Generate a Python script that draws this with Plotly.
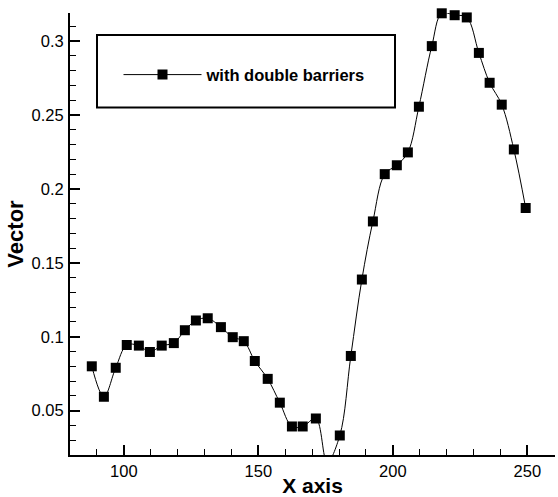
import plotly.graph_objects as go

x_vals = [88.1, 92.6, 97.0, 101.1, 105.6, 109.7, 114.1, 118.6, 122.7, 126.8,
          131.2, 136.1, 140.5, 144.6, 148.7, 153.5, 158.0, 162.5, 166.5, 171.4,
          175.6, 180.3, 184.4, 188.5, 192.6, 197.0, 201.5, 205.6, 209.7, 214.5,
          218.2, 223.0, 227.5, 232.0, 236.0, 240.5, 245.0, 249.4]
y_vals = [0.080, 0.0594, 0.079, 0.0944, 0.094, 0.0897, 0.094, 0.0957, 0.1044, 0.111,
          0.1125, 0.1065, 0.0997, 0.097, 0.0836, 0.0715, 0.0554, 0.0393, 0.0393, 0.0447,
          0.015, 0.0332, 0.087, 0.1387, 0.178, 0.210, 0.216, 0.2247, 0.2556, 0.2966,
          0.3188, 0.3175, 0.316, 0.292, 0.2718, 0.257, 0.2267, 0.1871]
series_name = "with double barriers"
x_title = "X axis"
y_title = "Vector"
x_ticks = [100, 150, 200, 250]
y_ticks = [0.05, 0.1, 0.15, 0.2, 0.25, 0.3]
y_ticklabels = ["0.05", "0.1", "0.15", "0.2", "0.25", "0.3"]

y_min, y_max = 0.02, 0.319

fig = go.Figure()
fig.add_trace(go.Scatter(
    x=x_vals, y=y_vals, mode="lines+markers", name=series_name,
    line=dict(color="black", width=1, shape="spline", smoothing=1.0),
    marker=dict(symbol="square", size=10, color="black", opacity=1,
                line=dict(width=0)),
    cliponaxis=False,
))

font = "Liberation Sans, Arial, sans-serif"
fig.update_layout(
    width=558, height=497,
    margin=dict(l=70, r=3, t=13, b=40),
    paper_bgcolor="white", plot_bgcolor="white",
    font=dict(family=font, color="black", size=16),
    showlegend=True,
    legend=dict(
        x=0.10, y=0.86, xanchor="left", yanchor="middle",
        bgcolor="rgba(0,0,0,0)", borderwidth=0,
        font=dict(family=font, size=16.5, color="black", weight="bold"),
        itemwidth=78,
    ),
    shapes=[dict(type="rect", xref="paper", yref="paper",
                 x0=(97 - 70) / 485, x1=(395 - 70) / 485,
                 y0=(457 - 108) / 444, y1=(457 - 35) / 444,
                 line=dict(color="black", width=2), fillcolor="rgba(0,0,0,0)")],
)
fig.update_xaxes(
    range=[80, 260.3], tickvals=x_ticks, ticks="inside", ticklen=10, tickwidth=2,
    tickcolor="black", showline=True, linecolor="black", linewidth=2,
    showgrid=False, zeroline=False,
    minor=dict(dtick=10, ticks="inside", ticklen=6, tickwidth=1, tickcolor="black"),
    title=dict(text=x_title, font=dict(size=21, weight="bold"), standoff=0),
    tickfont=dict(size=16.5),
)
fig.update_yaxes(
    range=[y_min, y_max], tickvals=y_ticks, ticktext=y_ticklabels, ticks="inside",
    ticklen=10, tickwidth=2, tickcolor="black", showline=True, linecolor="black",
    linewidth=2, showgrid=False, zeroline=False,
    minor=dict(dtick=0.01, tick0=0, ticks="inside", ticklen=6, tickwidth=1, tickcolor="black"),
    title=dict(text=y_title, font=dict(size=22, weight="bold"), standoff=2),
    tickfont=dict(size=16.5),
    ticklabelstandoff=1,
)

fig.write_html("out.html")
